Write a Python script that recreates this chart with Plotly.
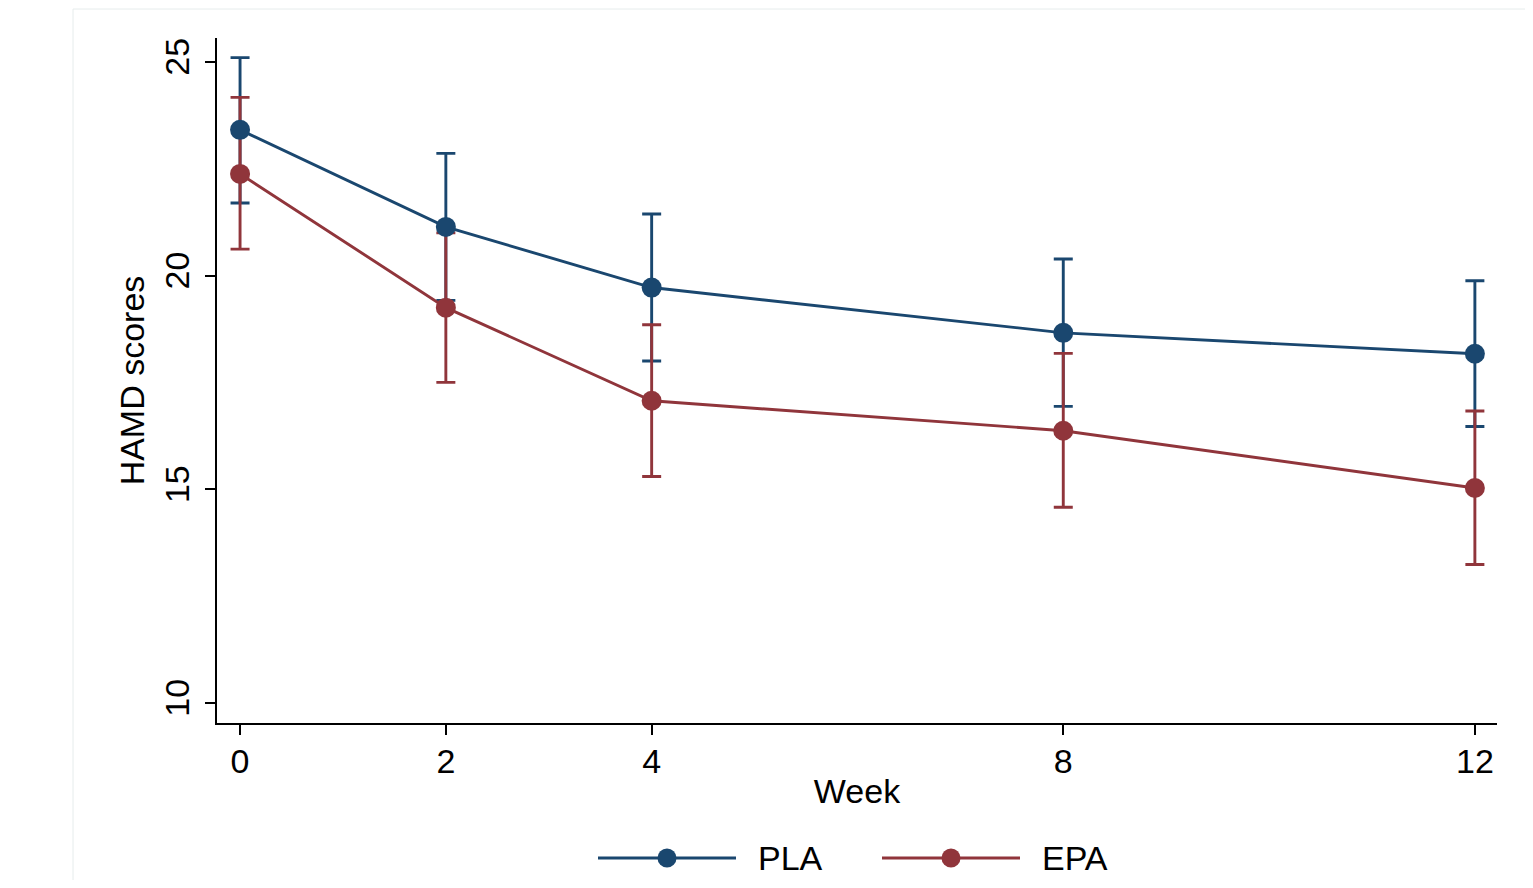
import plotly.graph_objects as go

weeks = [0, 2, 4, 8, 12]
week_labels = ["0", "2", "4", "8", "12"]

pla_mean = [23.41, 21.14, 19.72, 18.66, 18.17]
pla_upper = [25.10, 22.86, 21.44, 20.39, 19.88]
pla_lower = [21.70, 19.42, 18.00, 16.94, 16.47]

epa_mean = [22.38, 19.25, 17.07, 16.37, 15.03]
epa_upper = [24.17, 21.00, 18.85, 18.18, 16.83]
epa_lower = [20.62, 17.50, 15.30, 14.58, 13.24]

series_names = ["PLA", "EPA"]
NAVY = "#1a476f"
MAROON = "#90353b"
FONT = "Liberation Sans, Arial, sans-serif"
FS = 34
LW = 2.9

fig = go.Figure()

def err_trace(mean, up, lo, color):
    return go.Scatter(
        x=weeks, y=mean, mode="markers",
        marker=dict(size=1, color="rgba(0,0,0,0)"),
        error_y=dict(type="data", symmetric=False,
                     array=[u - m for u, m in zip(up, mean)],
                     arrayminus=[m - l for m, l in zip(mean, lo)],
                     color=color, thickness=LW, width=9.5),
        showlegend=False, hoverinfo="skip")

fig.add_trace(err_trace(pla_mean, pla_upper, pla_lower, NAVY))
fig.add_trace(err_trace(epa_mean, epa_upper, epa_lower, MAROON))
fig.add_trace(go.Scatter(x=weeks, y=pla_mean, mode="lines+markers", name=series_names[0],
                         line=dict(color=NAVY, width=LW),
                         marker=dict(size=20, color=NAVY), showlegend=False))
fig.add_trace(go.Scatter(x=weeks, y=epa_mean, mode="lines+markers", name=series_names[1],
                         line=dict(color=MAROON, width=LW),
                         marker=dict(size=20, color=MAROON), showlegend=False))

# page body has an 8px margin; positions below are in screenshot pixels
OFF = 8
PL, PT, PW, PH = 217, 38, 1280, 685   # plot area in screenshot pixels
W, H = 1517, 872
L, T = PL - OFF, PT - OFF
R = W - L - PW
B = H - T - PH

def px(xs):
    return (xs - PL) / PW

def py(ys):
    return (PT + PH - ys) / PH

shapes = []
annotations = []
# faint outer frame
shapes.append(dict(type="rect", xref="paper", yref="paper",
                   x0=px(73), x1=px(1560), y0=py(920), y1=py(9),
                   line=dict(color="#e6ecec", width=1), layer="below"))
# manual legend
leg_y = 858
for (x0, x1, tx, name, col) in [(598, 736, 756, series_names[0], NAVY),
                                (882, 1020, 1040, series_names[1], MAROON)]:
    shapes.append(dict(type="line", xref="paper", yref="paper",
                       x0=px(x0), x1=px(x1), y0=py(leg_y), y1=py(leg_y),
                       line=dict(color=col, width=3)))
    cx = (x0 + x1) / 2
    r = 9.5
    shapes.append(dict(type="circle", xref="paper", yref="paper",
                       x0=px(cx - r), x1=px(cx + r), y0=py(leg_y + r), y1=py(leg_y - r),
                       fillcolor=col, line=dict(color=col, width=0)))
    annotations.append(dict(xref="paper", yref="paper", x=px(tx), y=py(leg_y),
                            xanchor="left", yanchor="middle", showarrow=False,
                            text=name, font=dict(family=FONT, size=FS, color="black")))

fig.update_layout(
    width=W, height=H,
    margin=dict(l=L, r=R, t=T, b=B),
    paper_bgcolor="white", plot_bgcolor="white",
    shapes=shapes, annotations=annotations,
    font=dict(family=FONT, size=FS, color="black"),
    xaxis=dict(range=[-0.224, 12.215], tickmode="array", tickvals=weeks, ticktext=week_labels,
               showgrid=False, zeroline=False, showline=True, linecolor="black", linewidth=2,
               ticks="outside", ticklen=10, tickwidth=2, tickcolor="black",
               ticklabelstandoff=-3,
               tickfont=dict(family=FONT, size=FS),
               title=dict(text="Week", font=dict(family=FONT, size=FS), standoff=0)),
    yaxis=dict(range=[9.53, 25.56], tickmode="array", tickvals=[10, 15, 20, 25],
               showgrid=False, zeroline=False, showline=True, linecolor="black", linewidth=2,
               ticks="outside", ticklen=10, tickwidth=2, tickcolor="black", tickangle=-90,
               ticklabelstandoff=2,
               tickfont=dict(family=FONT, size=FS),
               title=dict(text="HAMD scores", font=dict(family=FONT, size=FS), standoff=4)),
)

fig.write_html("out.html")
